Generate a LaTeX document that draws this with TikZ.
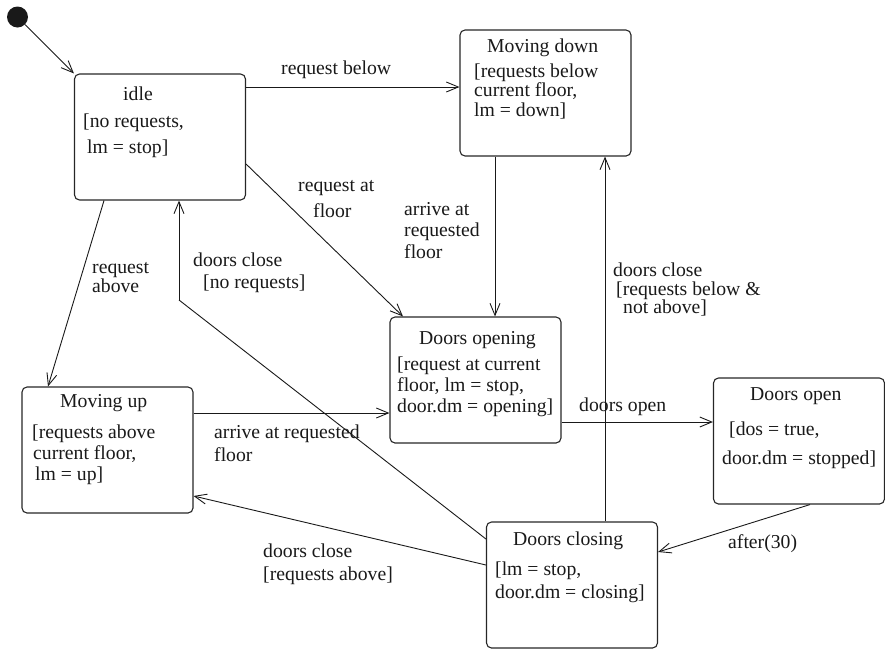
\documentclass[tikz,border=0pt]{standalone}
\usepackage{fontspec}
\setmainfont{LiberationSerif}[Extension=.ttf, UprightFont=*-Regular]
\usetikzlibrary{arrows.meta}

\begin{document}
\begin{tikzpicture}[x=1pt,y=-1pt,
  statebox/.style={draw=black!85, line width=1.1pt, rounded corners=5pt,
    inner sep=0pt, minimum width=171pt, minimum height=126pt},
  txt/.style={anchor=base west, inner sep=0pt, text=black!90,
    font=\rmfamily\fontsize{19.7}{20}\selectfont},
  tr/.style={draw=black!90, line width=0.9pt,
    -{Straight Barb[length=12pt,width=10pt,line width=0.9pt]}},
  plain/.style={draw=black!90, line width=0.9pt}]

\useasboundingbox (0,0) rectangle (885,649);

% initial pseudo-state
\node[circle, fill=black!90, minimum size=21pt, inner sep=0pt] (init) at (17.5,17) {};

% states
\node[statebox] (idle)     at (160,137)   {};
\node[statebox] (movdown)  at (545.5,93)  {};
\node[statebox] (dopening) at (475.5,380) {};
\node[statebox] (dopen)    at (799,441)   {};
\node[statebox] (dclosing) at (572,585)   {};
\node[statebox] (movup)    at (107.5,450) {};

% state texts
\node[txt] (idle-n)  at (123,100) {idle};
\node[txt] (idle-g1) at (83,127)  {[no requests,};
\node[txt] (idle-g2) at (87,153)  {lm = stop]};

\node[txt] (md-n)  at (487,52)  {Moving down};
\node[txt] (md-g1) at (474,77)  {[requests below};
\node[txt] (md-g2) at (474,96)  {current floor,};
\node[txt] (md-g3) at (474,116) {lm = down]};

\node[txt] (dg-n)  at (419,344) {Doors opening};
\node[txt] (dg-g1) at (397,370) {[request at current};
\node[txt] (dg-g2) at (397,391) {floor, lm = stop,};
\node[txt] (dg-g3) at (397,412) {door.dm = opening]};

\node[txt] (do-n)  at (750,400) {Doors open};
\node[txt] (do-g1) at (729,435) {[dos = true,};
\node[txt] (do-g2) at (722,464) {door.dm = stopped]};

\node[txt] (dc-n)  at (513,545) {Doors closing};
\node[txt] (dc-g1) at (495,575) {[lm = stop,};
\node[txt] (dc-g2) at (495,598) {door.dm = closing]};

\node[txt] (mu-n)  at (60,407) {Moving up};
\node[txt] (mu-g1) at (32,438) {[requests above};
\node[txt] (mu-g2) at (33,459) {current floor,};
\node[txt] (mu-g3) at (35,480) {lm = up]};

% transitions
\draw[tr] (init) -- (idle.north west);
\draw[tr] (idle.east |- 0,87) -- (movdown.west |- 0,87);
\draw[tr] (idle.east |- 0,164) -- (dopening.north -| 403,0);
\draw[tr] (idle.south -| 104,0) -- (movup.north -| 48,0);
\draw[tr] (movdown.south -| 495,0) -- (dopening.north -| 495,0);
\draw[tr] (movup.east |- 0,413) -- (dopening.west |- 0,413);
\draw[tr] (dopening.east |- 0,422) -- (dopen.west |- 0,422);
\draw[tr] (dopen.south -| 810,0) -- (dclosing.east |- 0,552);
\draw[tr] (dclosing.north -| 605,0) -- (movdown.south -| 605,0);
\draw[tr] (dclosing.west |- 0,565) -- (movup.east |- 0,496);
\coordinate (bend) at (179,300);
\draw[plain] (dclosing.west |- 0,539) -- (bend);
\draw[tr] (bend) -- (idle.south -| bend);

% transition labels
\node[txt] (l-rb)   at (281,74)  {request below};
\node[txt] (l-raf1) at (298,191) {request at};
\node[txt] (l-raf2) at (313,217) {floor};
\node[txt] (l-arf1) at (404,215) {arrive at};
\node[txt] (l-arf2) at (404,236) {requested};
\node[txt] (l-arf3) at (404,258) {floor};
\node[txt] (l-ra1)  at (92,273)  {request};
\node[txt] (l-ra2)  at (92,292)  {above};
\node[txt] (l-dcn1) at (193,266) {doors close};
\node[txt] (l-dcn2) at (203,288) {[no requests]};
\node[txt] (l-dcb1) at (613,276) {doors close};
\node[txt] (l-dcb2) at (616,295) {[requests below \&};
\node[txt] (l-dcb3) at (623,313) {not above]};
\node[txt] (l-do)   at (579,411) {doors open};
\node[txt] (l-aft)  at (728,548) {after(30)};
\node[txt] (l-arr1) at (214,438) {arrive at requested};
\node[txt] (l-arr2) at (214,461) {floor};
\node[txt] (l-dca1) at (263,557) {doors close};
\node[txt] (l-dca2) at (263,580) {[requests above]};

\end{tikzpicture}
\end{document}
